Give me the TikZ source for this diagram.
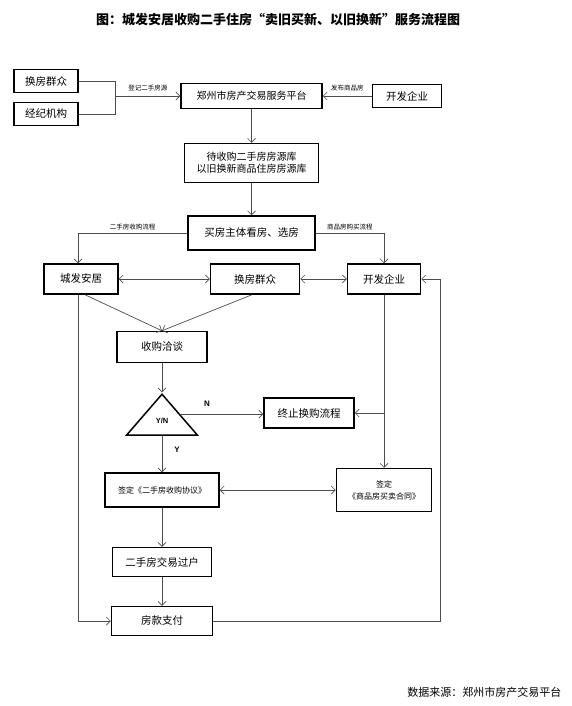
\documentclass[tikz,border=0pt]{standalone}
\usepackage{fontspec}
\setmainfont{Noto Sans CJK SC}
\newfontfamily\latinsans{Liberation Sans}
\usetikzlibrary{arrows.meta,shapes.geometric,positioning}
\tikzset{%
  >={Straight Barb[length=4pt,width=8pt]},
  % Specifications for style of nodes:
     base/.style = {rectangle, draw=black, line width=1.5pt, fill=white,
                           inner sep=0pt, text centered,
                           font=\fontsize{10.5}{13}\selectfont},
    sideBox/.style = {base, minimum width=64pt, minimum height=23pt},
    platformBox/.style = {base, minimum height=25pt, font=\fontsize{10}{12}\selectfont},
    roleBox/.style = {base, minimum height=30pt},
    stepBox/.style = {base, minimum width=90pt, minimum height=30pt},
    signBox/.style = {base, font=\fontsize{8}{12}\selectfont},
    decision/.style = {isosceles triangle, shape border rotate=90,
                           isosceles triangle stretches, minimum width=71pt,
                           minimum height=41pt, draw=black, line width=1.5pt,
                           fill=white, inner sep=0pt},
    connector/.style = {draw=black!70, line width=0.7pt},
    flowLabel/.style = {font=\fontsize{6.5}{7}\selectfont, inner sep=1pt},
    yesNo/.style = {font=\latinsans\bfseries\fontsize{8}{9}\selectfont, inner sep=1pt},
}
\begin{document}
\begin{tikzpicture}[x=1pt, y=1pt, node distance=30pt, align=center]
  \useasboundingbox (0,0) rectangle (572,-706);
  % Specification of nodes (position, etc.)
  \node (title) at (278,-20) [font=\bfseries\fontsize{13}{15}\selectfont]
                              {图：城发安居收购二手住房“卖旧买新、以旧换新”服务流程图};
  \node (qz1)      [sideBox] at (46,-81)  {换房群众};
  \node (jj)       [sideBox, below of=qz1, yshift=-3pt] {经纪机构};
  \node (platform) [platformBox, minimum width=141pt, right of=qz1, xshift=175.5pt, yshift=-15pt]
                              {郑州市房产交易服务平台};
  \node (kf1)      [base, minimum width=69pt, minimum height=23pt, right of=platform, xshift=125.5pt]
                              {开发企业};
  \coordinate (join) at ([xshift=-65pt]platform.west);

  \node (pool)     [platformBox, minimum width=134pt, minimum height=39pt, below of=platform, yshift=-37pt]
                              {待收购二手房房源库 \\ 以旧换新商品住房房源库};
  \node (choose)   [base, minimum width=127pt, minimum height=34pt, below of=pool, yshift=-40pt]
                              {买房主体看房、选房};

  \node (qz2)      [roleBox, minimum width=89pt, below of=choose, yshift=-16pt, xshift=3.5pt] {换房群众};
  \node (cf)       [roleBox, minimum width=74pt, left of=qz2, xshift=-144pt] {城发安居};
  \node (kf2)      [roleBox, minimum width=73pt, right of=qz2, xshift=99pt] {开发企业};

  \node (talk)     [stepBox, minimum height=31pt, below of=cf, yshift=-38pt, xshift=81pt] {收购洽谈};
  \node (tri)      [decision, below=29pt of talk, anchor=apex]
                              {\latinsans\bfseries\fontsize{7.5}{9}\selectfont Y/N};
  \node (stop)     [stepBox, right of=talk, xshift=117pt, yshift=-66pt] {终止换购流程};

  \node (agree)    [signBox, minimum width=114pt, minimum height=34pt, below of=talk, yshift=-113pt]
                              {签定《二手房收购协议》};
  \node (contract) [signBox, minimum width=95pt, minimum height=43pt, right of=agree, xshift=192pt]
                              {签定 \\ 《商品房买卖合同》};
  \node (transfer) [stepBox, minimum width=99pt, minimum height=29pt, below of=agree, yshift=-42pt]
                              {二手房交易过户};
  \node (pay)      [stepBox, minimum width=101pt, minimum height=29pt, below of=transfer, yshift=-29pt]
                              {房款支付};

  \node (source) [anchor=east, font=\fontsize{11}{13}\selectfont] at (565,-692)
                              {数据来源：郑州市房产交易平台};

  % Specification of lines between nodes specified above
  % with aditional nodes for the flow labels
  \draw[connector]      (qz1.east) -| (join) |- (jj.east);
  \draw[->, connector]  (join) -- (platform.west)
                              node[midway, above=4pt, flowLabel] {登记二手房源};
  \draw[->, connector]  (kf1.west) -- (platform.east)
                              node[midway, above=4pt, flowLabel] {发布商品房};
  \draw[->, connector]  (platform) -- (pool);
  \draw[->, connector]  (pool) -- (choose);
  \draw[->, connector]  (choose.west) -| ([xshift=-3pt]cf.north)
                              node[pos=0.25, above=2pt, flowLabel] {二手房收购流程};
  \draw[->, connector]  (choose.east) -| (kf2.north)
                              node[pos=0.25, above=2pt, flowLabel] {商品房购买流程};

  \draw[<->, connector] (cf) -- (qz2);
  \draw[<->, connector] (qz2) -- (kf2);
  \draw[->, connector]  ([xshift=4pt]cf.south) -- (talk.north);
  \draw[->, connector]  ([xshift=-3pt]qz2.south) -- (talk.north);
  \draw[->, connector]  ([xshift=-3pt]cf.south) |- (pay.west);

  \draw[->, connector]  (talk) -- (tri.apex);
  \draw[->, connector]  (tri.right side) -- (tri.right side -| stop.west)
                              node[pos=0.32, above=6pt, yesNo] {N};
  \draw[->, connector]  (kf2) -- (contract);
  \draw[->, connector]  (kf2.south |- stop.east) -- (stop.east);
  \draw[->, connector]  (tri.lower side) -- (agree)
                              node[pos=0.375, right=11pt, yesNo] {Y};
  \draw[<->, connector] (agree) -- (contract);
  \draw[->, connector]  (agree) -- (transfer);
  \draw[->, connector]  (transfer) -- (pay);
  \draw[->, connector]  (pay.east) -| ([xshift=19.5pt]kf2.east) -- (kf2.east);

\end{tikzpicture}
\end{document}
